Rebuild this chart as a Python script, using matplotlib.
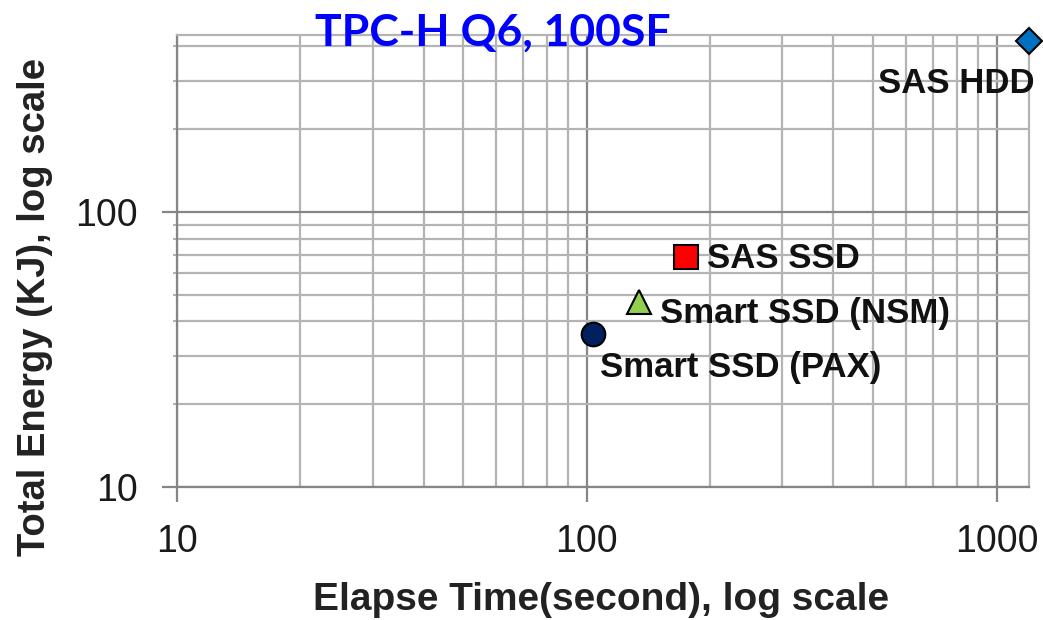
import matplotlib.pyplot as plt
import numpy as np
from matplotlib import ticker

# data (log-log scatter)
names = ['SAS HDD', 'SAS SSD', 'Smart SSD (NSM)', 'Smart SSD (PAX)']
elapse_time = [1200, 175, 134, 103.5]   # seconds
energy = [420, 68.5, 47, 36]             # KJ
markers = ['D', 's', '^', 'o']
colors = ['#0070c0', '#ff0000', '#92d050', '#002060']
msizes = [13, 17, 17, 17]

fig = plt.figure(figsize=(10.43, 6.2), dpi=100)
# axes placed in pixels: left 177, right 1029, bottom 487, top 35
W, H = 1043, 620
ax = fig.add_axes([177 / W, (H - 487) / H, (1029 - 177) / W, (487 - 35) / H])

ax.set_xscale('log')
ax.set_yscale('log')
ax.set_xlim(10, 1200)
ax.set_ylim(10, 440)

major_c = '#868686'
minor_c = '#b4b4b4'
ax.grid(which='minor', color=minor_c, lw=1.6)
ax.grid(which='major', color=major_c, lw=1.6)
ax.set_axisbelow(True)

for s in ['top', 'right']:
    ax.spines[s].set_color(minor_c)
    ax.spines[s].set_linewidth(1.6)
for s in ['left', 'bottom']:
    ax.spines[s].set_color(major_c)
    ax.spines[s].set_linewidth(1.6)

ax.xaxis.set_major_locator(ticker.LogLocator(base=10))
ax.yaxis.set_major_locator(ticker.LogLocator(base=10))
ax.xaxis.set_major_formatter(ticker.FuncFormatter(lambda v, p: '%d' % v))
ax.yaxis.set_major_formatter(ticker.FuncFormatter(lambda v, p: '%d' % v))
ax.xaxis.set_minor_formatter(ticker.NullFormatter())
ax.yaxis.set_minor_formatter(ticker.NullFormatter())
ax.tick_params(which='major', length=11, width=1.6, color=major_c,
               labelsize=27, labelcolor='#1a1a1a')
ax.tick_params(axis='x', which='major', pad=16)
ax.tick_params(axis='y', which='major', pad=17)
ax.tick_params(axis='x', which='minor', length=0)
ax.tick_params(axis='y', which='minor', length=3, width=1.5, color=minor_c)
for lab in ax.get_xticklabels() + ax.get_yticklabels():
    lab.set_family('Liberation Sans')

for x, y, m, c, ms in zip(elapse_time, energy, markers, colors, msizes):
    ax.plot(x, y, marker=m, color=c, markersize=ms, markeredgecolor='black',
            markeredgewidth=1.5, ls='none', clip_on=False, zorder=5)

lab_kw = dict(fontsize=25, fontweight='bold', family='Liberation Sans', color='#111111')
ax.annotate(names[0], (elapse_time[0], energy[0]), xytext=(4, -19),
            textcoords='offset points', ha='right', va='top', **lab_kw)
ax.annotate(names[1], (elapse_time[1], energy[1]), xytext=(15, -1),
            textcoords='offset points', ha='left', va='center', **lab_kw)
ax.annotate(names[2], (elapse_time[2], energy[2]), xytext=(15, -8),
            textcoords='offset points', ha='left', va='center', **lab_kw)
ax.annotate(names[3], (elapse_time[3], energy[3]), xytext=(5, -12),
            textcoords='offset points', ha='left', va='top', **lab_kw)

# axis titles placed as in the reference (y title sits lower than axes centre)
fig.text(601 / W, 1 - 600 / H, 'Elapse Time(second), log scale', fontsize=28,
         fontweight='bold', family='Liberation Sans', color='#222222',
         ha='center', va='center')
fig.text(35 / W, 1 - 307 / H, 'Total Energy (KJ), log scale', fontsize=27.5,
         fontweight='bold', family='Liberation Sans', color='#222222',
         ha='center', va='center', rotation=90)

fig.text(493 / W, 1 - 33 / H, 'TPC-H Q6, 100SF', color='#0000ff', fontsize=32,
         fontweight='bold', family='Lato', ha='center', va='center')

fig.savefig('out.png', dpi=100)
